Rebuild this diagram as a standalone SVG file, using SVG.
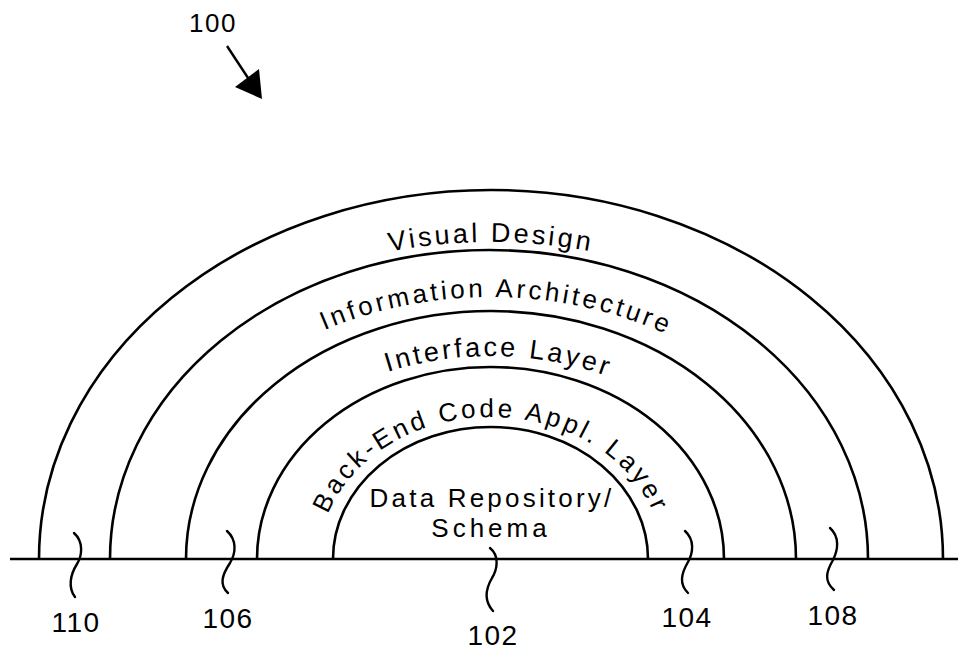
<svg xmlns="http://www.w3.org/2000/svg" width="961" height="651" viewBox="0 0 961 651">
<defs>
<style>
.arc{fill:none;stroke:#000;stroke-width:2.6}
.sq{fill:none;stroke:#000;stroke-width:2.4;stroke-linecap:round}
.lbl{font-family:"Liberation Sans",Arial,sans-serif;font-size:27px;fill:#000}
.num{font-family:"Liberation Sans",Arial,sans-serif;font-size:28px;fill:#000;letter-spacing:1.5px}
</style>
<path id="p1" d="M76 560 A415 318 0 0 1 906 560"/>
<path id="p2" d="M149 560 A342 263 0 0 1 833 560"/>
<path id="p3" d="M223 560 A268 204 0 0 1 759 560"/>
<path id="p4" d="M319 560 A172 143 0 0 1 663 560"/>
</defs>
<rect width="961" height="651" fill="#fff"/>
<g id="connectors">
<line x1="10" y1="559" x2="958" y2="559" stroke="#000" stroke-width="2.6"/>
<line x1="227" y1="46" x2="252" y2="84" stroke="#000" stroke-width="2.4"/>
<polygon points="262,99 235,87 259,69" fill="#000"/>
<path class="sq" d="M74 533 C84 542 82 556 77 564 C70 575 68 588 75 597"/>
<path class="sq" d="M227 531 C237 540 236 553 230 563 C222 575 219 585 228 593"/>
<path class="sq" d="M490 548 C500 556 497 570 492 578 C485 590 484 601 493 611"/>
<path class="sq" d="M685 531 C695 540 693 553 688 562 C681 574 679 584 688 593"/>
<path class="sq" d="M830 528 C840 537 838 550 833 560 C826 572 824 581 834 590"/>
</g>
<g id="layer110">
<path class="arc" d="M39 559 A452 369 0 0 1 943 559"/>
<text class="lbl" style="letter-spacing:3px"><textPath href="#p1" startOffset="50%" text-anchor="middle">Visual Design</textPath></text>
</g>
<g id="layer108">
<path class="arc" d="M110 559 A379 309 0 0 1 868 559"/>
<text class="lbl" style="letter-spacing:3.3px;font-size:26px"><textPath href="#p2" startOffset="50.6%" text-anchor="middle">Information Architecture</textPath></text>
</g>
<g id="layer106">
<path class="arc" d="M186 559 A305 248 0 0 1 796 559"/>
<text class="lbl" style="letter-spacing:3px"><textPath href="#p3" startOffset="51%" text-anchor="middle">Interface Layer</textPath></text>
</g>
<g id="layer104">
<path class="arc" d="M257 559 A233.5 192 0 0 1 724 559"/>
<text class="lbl" style="letter-spacing:3.3px;font-size:26px"><textPath href="#p4" startOffset="50%" text-anchor="middle">Back-End Code Appl. Layer</textPath></text>
</g>
<g id="layer102">
<path class="arc" d="M333 559 A157.5 132 0 0 1 648 559"/>
<text class="lbl" x="492" y="507" text-anchor="middle" style="font-size:26px;letter-spacing:3.2px">Data Repository/</text>
<text class="lbl" x="491" y="537" text-anchor="middle" style="font-size:26px;letter-spacing:4px">Schema</text>
</g>
<g id="labels">
<text class="num" x="213" y="32" text-anchor="middle" style="font-size:26px">100</text>
<text class="num" x="76" y="632" text-anchor="middle">110</text>
<text class="num" x="228" y="628" text-anchor="middle">106</text>
<text class="num" x="493" y="645" text-anchor="middle">102</text>
<text class="num" x="687" y="627" text-anchor="middle">104</text>
<text class="num" x="833" y="625" text-anchor="middle">108</text>
</g>
</svg>
